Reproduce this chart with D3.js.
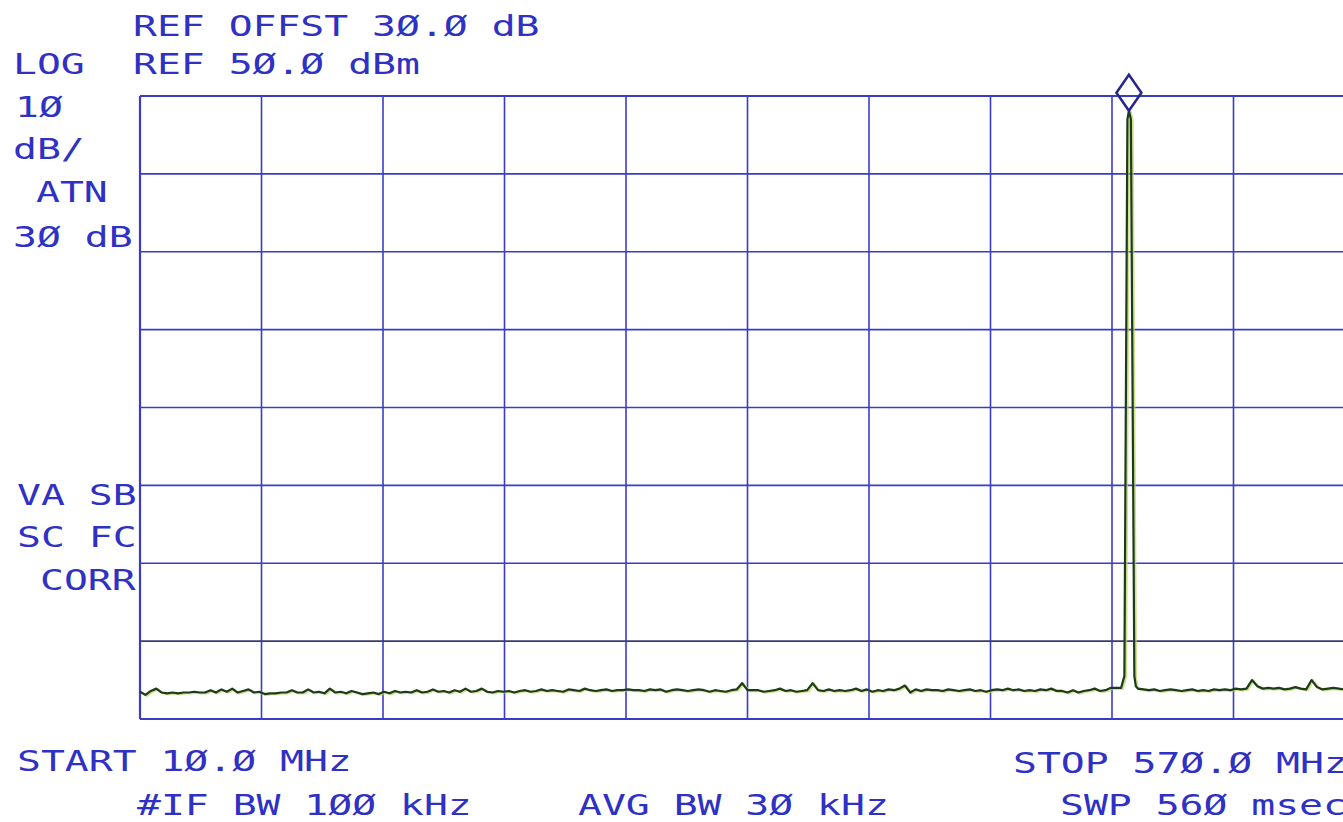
<!DOCTYPE html>
<html>
<head>
  <script src="https://d3js.org/d3.v7.min.js"></script>
  <style>
    body { margin: 0; background: #fff; }
    .lbl {
      font-family: "DejaVu Sans Mono", monospace;
      font-size: 29px;
      fill: #2f31c4;
    }
  </style>
</head>
<body>
  <script>
    // analyser settings
    var startMHz = 10, stopMHz = 570;
    var refLevel = 50, dbPerDiv = 10;
    var xDivs = 10, yDivs = 8;

    // noise floor trace, one value every 2.5 MHz from 10 to 570 MHz (dBm)
    var noiseDbm = [
      -26.5,-26.9,-26.4,-26.1,-26.6,-26.7,-26.6,-26.7,-26.6,-26.6,
      -26.5,-26.6,-26.6,-26.3,-26.6,-26.2,-26.5,-26.1,-26.6,-26.4,
      -26.2,-26.6,-26.5,-26.8,-26.7,-26.7,-26.6,-26.6,-26.3,-26.6,
      -26.6,-26.2,-26.6,-26.5,-26.7,-26.1,-26.6,-26.5,-26.7,-26.4,
      -26.6,-26.8,-26.7,-26.6,-26.8,-26.5,-26.7,-26.4,-26.6,-26.5,
      -26.6,-26.3,-26.6,-26.5,-26.2,-26.5,-26.4,-26.6,-26.3,-26.5,
      -26.1,-26.5,-26.4,-26.1,-26.5,-26.6,-26.4,-26.5,-26.4,-26.6,
      -26.4,-26.3,-26.5,-26.4,-26.2,-26.4,-26.3,-26.4,-26.5,-26.2,
      -26.3,-26.4,-26.1,-26.3,-26.4,-26.3,-26.2,-26.4,-26.3,-26.3,
      -26.2,-26.3,-26.3,-26.4,-26.2,-26.3,-26.2,-26.5,-26.3,-26.2,
      -26.3,-26.4,-26.3,-26.2,-26.3,-26.5,-26.3,-26.4,-26.5,-26.3,
      -26.2,-25.4,-26.3,-26.3,-26.3,-26.5,-26.4,-26.3,-26.1,-26.4,
      -26.3,-26.5,-26.4,-26.3,-25.4,-26.3,-26.4,-26.2,-26.4,-26.3,
      -26.4,-26.3,-26.1,-26.4,-26.2,-26.5,-26.3,-26.4,-26.2,-26.3,
      -26.1,-25.7,-26.6,-26.2,-26.4,-26.2,-26.3,-26.3,-26.4,-26.2,
      -26.3,-26.4,-26.3,-26.2,-26.4,-26.3,-26.5,-26.3,-26.2,-26.3,
      -26.1,-26.3,-26.2,-26.4,-26.3,-26.4,-26.2,-26.3,-26.1,-26.4,
      -26.4,-26.6,-26.3,-26.6,-26.4,-26.3,-26.1,-26.4,-26.3,-26.0,
      -26.0,-26.1,-26.0,-26.0,-26.1,-26.2,-26.3,-26.2,-26.4,-26.3,
      -26.2,-26.3,-26.4,-26.3,-26.2,-26.4,-26.3,-26.4,-26.2,-26.3,
      -26.2,-26.3,-26.1,-26.2,-26.1,-25.0,-25.8,-26.1,-26.0,-26.1,
      -26.0,-26.2,-26.1,-25.9,-26.1,-26.2,-25.0,-25.9,-26.2,-26.1,
      -26.0,-26.1,-26.2,-26.1,-26.0
    ];

    // the carrier near 466 MHz
    var peakMHz = [462.2, 463.7, 465.1, 465.8, 466.7, 468.3, 469.0];
    var peakDbm = [-26.0, -24.5, 47.0, 48.1, 47.0, -24.5, -25.8];
    var markerMHz = 465.8, markerDbm = 48.1;

    var labels = [
      { t: "REF OFFST 3Ø.Ø dB", x: 133, y: 36 },
      { t: "LOG", x: 13, y: 74 },
      { t: "REF 5Ø.Ø dBm", x: 133, y: 74 },
      { t: "1Ø", x: 15, y: 117 },
      { t: "dB/", x: 13, y: 159 },
      { t: "ATN", x: 36, y: 202 },
      { t: "3Ø dB", x: 13, y: 247 },
      { t: "VA SB", x: 17, y: 505 },
      { t: "SC FC", x: 17, y: 547 },
      { t: "CORR", x: 40, y: 590 },
      { t: "START 1Ø.Ø MHz", x: 17, y: 771 },
      { t: "#IF BW 1ØØ kHz", x: 137, y: 815 },
      { t: "AVG BW 3Ø kHz", x: 578, y: 815 },
      { t: "STOP 57Ø.Ø MHz", x: 1013, y: 773 },
      { t: "SWP 56Ø msec", x: 1060, y: 815 }
    ];

    var W = 1343, H = 822;
    var svg = d3.select("body").append("svg")
      .attr("width", W).attr("height", H);

    svg.append("rect").attr("width", W).attr("height", H).attr("fill", "#fff");

    var x = d3.scaleLinear().domain([startMHz, stopMHz]).range([140, 1355]);
    var y = d3.scaleLinear()
      .domain([refLevel - yDivs * dbPerDiv, refLevel])
      .range([719, 96]);

    // graticule
    var xLines = d3.range(xDivs + 1).map(function (i) {
      return startMHz + i * (stopMHz - startMHz) / xDivs;
    });
    var yLines = d3.range(yDivs + 1).map(function (i) {
      return refLevel - i * dbPerDiv;
    });

    svg.selectAll(".vline").data(xLines).enter().append("line")
      .attr("x1", function (d) { return x(d); })
      .attr("x2", function (d) { return x(d); })
      .attr("y1", y(refLevel)).attr("y2", y(refLevel - yDivs * dbPerDiv))
      .attr("stroke", "#3b3cc6")
      .attr("stroke-width", function (d, i) { return i == 0 ? 2.2 : 1.6; });

    svg.selectAll(".hline").data(yLines).enter().append("line")
      .attr("x1", x(startMHz)).attr("x2", x(stopMHz))
      .attr("y1", function (d) { return y(d); })
      .attr("y2", function (d) { return y(d); })
      .attr("stroke", function (d) { return d == -20 ? "#3a3a78" : "#3b3cc6"; })
      .attr("stroke-width", function (d, i) {
        return (i == 0 || i == yDivs) ? 2.2 : 1.6;
      });

    // trace: noise samples plus the carrier
    var pts = noiseDbm.map(function (v, i) {
      return { f: startMHz + i * 2.5, v: v };
    }).filter(function (p) { return p.f < peakMHz[0] || p.f > peakMHz[peakMHz.length - 1]; });
    peakMHz.forEach(function (f, i) { pts.push({ f: f, v: peakDbm[i] }); });
    pts.sort(function (a, b) { return a.f - b.f; });

    var line = d3.line()
      .x(function (d) { return x(d.f); })
      .y(function (d) { return y(d.v); });

    svg.append("path").datum(pts)
      .attr("d", line)
      .attr("transform", "translate(1.5,0.8)")
      .attr("fill", "none")
      .attr("stroke", "#b9d45a")
      .attr("stroke-width", 2.5)
      .attr("opacity", 0.7);

    svg.append("path").datum(pts)
      .attr("d", line)
      .attr("fill", "none")
      .attr("stroke", "#1d3a1d")
      .attr("stroke-width", 2.2)
      .attr("stroke-linejoin", "round");

    // marker diamond sitting on the peak
    var mx = x(markerMHz), my = y(markerDbm);
    svg.append("path")
      .attr("d", "M" + mx + "," + my + " L" + (mx + 12.5) + "," + (my - 18) +
        " L" + mx + "," + (my - 36) + " L" + (mx - 12.5) + "," + (my - 18) + "Z")
      .attr("fill", "none")
      .attr("stroke", "#25258c")
      .attr("stroke-width", 2.5);

    // annotation text (plotter style, wide glyphs)
    svg.selectAll(".lbl").data(labels).enter().append("text")
      .attr("class", "lbl")
      .attr("transform", function (d) {
        return "translate(" + d.x + "," + d.y + ") scale(1.37,1)";
      })
      .text(function (d) { return d.t; });
  </script>
</body>
</html>
